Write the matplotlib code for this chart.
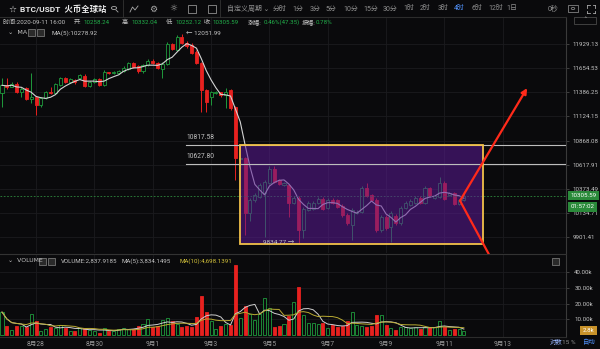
import numpy as np
import pandas as pd
import matplotlib
matplotlib.use("Agg")
import matplotlib.pyplot as plt
from matplotlib.patches import Rectangle, Circle
from matplotlib.lines import Line2D
from matplotlib.ticker import NullLocator

plt.rcParams['font.family'] = ['Roboto', 'Noto Sans CJK SC', 'DejaVu Sans']

# --- BTC/USDT 4h candles, 2020-08-26 20:00 .. 2020-09-11 16:00 ---
opens = [11376, 11470, 11450, 11478, 11385, 11430, 11310, 11330, 11246, 11322,
         11390, 11376, 11470, 11540, 11497, 11519, 11540, 11563, 11453, 11497,
         11530, 11464, 11607, 11596, 11600, 11618, 11651, 11718, 11680, 11618,
         11696, 11740, 11718, 11651, 11707, 11933, 11860, 12010, 11944, 11920,
         11840, 11718, 11409, 11333, 11376, 11387, 11354, 11409, 11225, 10680,
         10687, 10135, 10262, 10292, 10332, 10432, 10574, 10462, 10412, 10412,
         10233, 10282, 9969, 10164, 10174, 10233, 10272, 10184, 10262, 10262,
         10204, 10115, 10018, 10135, 10145, 10382, 10312, 10262, 9969, 10096,
         9999, 10106, 10038, 10184, 10213, 10233, 10282, 10233, 10382, 10282,
         10292, 10432, 10312, 10332, 10223, 10258.24]
highs = [11540, 11545, 11500, 11500, 11440, 11445, 11596, 11345, 11340, 11400,
         11442, 11485, 11560, 11555, 11545, 11530, 11590, 11585, 11510, 11545,
         11545, 11640, 11615, 11618, 11640, 11680, 11730, 11730, 11690, 11705,
         11760, 11755, 11730, 11720, 11950, 11945, 12030, 12051.99, 11960, 11940,
         11860, 11730, 11420, 11400, 11400, 11395, 11431, 11420, 11240, 10700,
         10700, 10280, 10330, 10430, 10460, 10600, 10600, 10475, 10445, 10425,
         10300, 10300, 10190, 10250, 10250, 10290, 10290, 10280, 10280, 10275,
         10220, 10130, 10180, 10160, 10400, 10432, 10320, 10280, 10110, 10110,
         10150, 10120, 10200, 10250, 10270, 10300, 10300, 10400, 10395, 10315,
         10493, 10450, 10345, 10345, 10275, 10332.04]
lows = [11225, 11420, 11440, 11376, 11340, 11300, 11268, 11139, 11230, 11310,
        11365, 11365, 11460, 11490, 11485, 11480, 11530, 11440, 11440, 11490,
        11455, 11455, 11585, 11590, 11590, 11610, 11640, 11660, 11600, 11600,
        11685, 11705, 11650, 11540, 11695, 11860, 11850, 11930, 11890, 11815,
        11700, 11171, 11171, 11250, 11365, 11340, 11214, 11190, 10462, 10600,
        9921, 10060, 10240, 10280, 9901, 10420, 10430, 10410, 10400, 10096,
        10220, 9834.77, 9890, 10150, 10160, 10220, 10160, 10170, 10220, 10180,
        10090, 10020, 9873, 10120, 10130, 10290, 10250, 9950, 9950, 9970,
        9854, 10020, 10020, 10170, 10200, 10220, 10220, 10220, 10290, 10270,
        10280, 10260, 10300, 10210, 10210, 10252.12]
closes = [11464, 11450, 11480, 11390, 11425, 11311, 11333, 11246, 11322, 11387,
          11376, 11475, 11540, 11497, 11530, 11497, 11574, 11453, 11497, 11530,
          11464, 11607, 11596, 11607, 11629, 11662, 11718, 11673, 11618, 11696,
          11740, 11718, 11662, 11707, 11933, 11876, 12010, 11944, 11910, 11830,
          11718, 11409, 11279, 11387, 11387, 11354, 11387, 11214, 10687, 10690,
          10135, 10262, 10312, 10412, 10442, 10574, 10442, 10422, 10432, 10233,
          10282, 9969, 10174, 10233, 10233, 10272, 10174, 10262, 10233, 10194,
          10115, 10038, 10164, 10145, 10382, 10302, 10262, 9969, 10096, 9989,
          10135, 10038, 10184, 10233, 10253, 10282, 10233, 10382, 10302, 10302,
          10432, 10272, 10332, 10223, 10262, 10305.59]
vol_k = [14.6, 5.8, 3.2, 5.8, 5.4, 5.0, 13.3, 8.6, 2.6, 3.9,
         5.0, 4.7, 6.5, 4.7, 2.6, 2.4, 4.3, 4.3, 3.2, 2.8,
         1.1, 4.3, 2.6, 2.8, 4.1, 4.3, 3.7, 3.9, 5.4, 7.1,
         10.3, 5.0, 5.8, 9.7, 10.8, 8.6, 7.1, 5.0, 5.4, 5.0,
         11.2, 24.7, 14.6, 8.6, 4.1, 5.4, 7.1, 6.5, 44.7, 10.8,
         18.7, 13.5, 9.7, 13.5, 23.7, 17.2, 5.0, 5.8, 7.1, 11.8,
         21.1, 30.5, 12.9, 7.9, 7.9, 7.1, 7.5, 4.3, 6.1, 5.0,
         5.8, 8.6, 14.6, 6.5, 5.4, 5.0, 5.8, 12.5, 12.5, 6.5,
         4.3, 3.2, 5.0, 5.0, 4.7, 5.0, 3.5, 5.0, 5.0, 5.0,
         8.6, 5.0, 3.0, 4.0, 3.9, 2.84]

price_ticks = [9901.41, 10134.71, 10373.49, 10617.91, 10868.08,
               11124.15, 11386.25, 11654.53, 11929.13]
vol_ticks = [10, 20, 30, 40]
date_pos = [7, 19, 31, 43, 55, 67, 79, 91, 103]      # candle index of 00:00
date_labels = ['8月28', '8月30', '9月1', '9月3', '9月5', '9月7', '9月9', '9月11', '9月13']

levels = [10817.58, 10627.80]
box_x = [49.0, 99.0]
box_y = [9834.77, 10817.58]
hi_idx, lo_idx = 37, 61
arrow_start = (94.2, 10254)
arrow_up_end = (108.0, 11433)
arrow_dn_end = (102.1, 9572)

BG = "#0a0a0c"
GRID = "#1b1b1e"
UP = "#1f9a3c"
DOWN = "#e8211f"
TXT = "#c4c4c4"
DIM = "#8f8f8f"
VAL = "#22b04a"

o = np.array(opens); c = np.array(closes); h = np.array(highs); l = np.array(lows)
idx = np.arange(len(o))
up = c >= o
edge = np.where(up, UP, DOWN)
face = np.where(up, BG, DOWN)

W, H = 600, 349
fig = plt.figure(figsize=(6, 3.49), dpi=100, facecolor=BG)
ax = fig.add_axes([0, 1 - 253 / H, 566 / W, (253 - 17) / H], facecolor=BG)
axv = fig.add_axes([0, 1 - 337 / H, 566 / W, (337 - 254) / H], facecolor=BG, sharex=ax)

# --- price panel ---
ax.vlines(idx, l, h, colors=edge, lw=0.7, zorder=2)
ax.bar(idx, np.maximum(np.abs(c - o), 4), bottom=np.minimum(o, c), width=0.62,
       color=face, edgecolor=edge, linewidth=0.6, zorder=3)
ma5 = pd.Series(c).rolling(5, min_periods=1).mean()
ax.plot(idx, ma5, color="#d4d4d4", lw=0.8, zorder=4)
ax.axhline(c[-1], color="#2e8b3e", lw=0.6, ls=(0, (2, 2)), zorder=4)

ax.add_patch(Rectangle((box_x[0], box_y[0]), box_x[1] - box_x[0], box_y[1] - box_y[0],
                       facecolor="#5b1a95", alpha=0.55, edgecolor="none", zorder=5))
ax.add_patch(Rectangle((box_x[0], box_y[0]), box_x[1] - box_x[0], box_y[1] - box_y[0],
                       fill=False, edgecolor="#f2c14a", lw=1.3, zorder=7))
for v in levels:
    ax.plot([37.9, 116], [v, v], color="#bdbdbd", lw=0.8, zorder=6)
    ax.annotate(f"{v:.2f}", (38, v), xytext=(0, 3), textcoords="offset points",
                fontsize=4.8, color=TXT, va="bottom", zorder=8)
ax.annotate(f"\u2190 {highs[hi_idx]:.2f}", (hi_idx, highs[hi_idx]), xytext=(3, 0),
            textcoords="offset points", fontsize=4.6, color=TXT, va="center")
ax.annotate(f"{lows[lo_idx]:.2f} \u2192", (lo_idx, lows[lo_idx]), xytext=(-3, 1),
            textcoords="offset points", fontsize=4.6, color=TXT, va="center", ha="right",
            zorder=8)

arrow_kw = dict(arrowstyle="-|>", mutation_scale=8, lw=1.6, color="#ff2a1a",
                shrinkA=0, shrinkB=0)
ax.annotate("", xy=arrow_up_end, xytext=arrow_start, arrowprops=arrow_kw,
            annotation_clip=False, zorder=9)
a2 = ax.annotate("", xy=arrow_dn_end, xytext=arrow_start, arrowprops=arrow_kw,
                 annotation_clip=False, zorder=9)
a2.arrow_patch.set_clip_on(False)

ax.set_yscale("log")
ax.set_ylim(9749, 12246)
ax.set_xlim(-0.41, 116.0)
ax.yaxis.tick_right()
ax.set_yticks(price_ticks)
ax.set_yticklabels([f"{v:.2f}" for v in price_ticks])
ax.yaxis.set_minor_locator(NullLocator())
ax.tick_params(axis="y", colors="#555", labelcolor=TXT, labelsize=4.4, length=2, width=0.5, pad=2.5)
ax.set_xticks(date_pos)
ax.tick_params(axis="x", labelbottom=False, length=0)
ax.grid(True, color=GRID, lw=0.6)
ax.set_axisbelow(True)
for s in ["left", "bottom"]:
    ax.spines[s].set_visible(False)
ax.spines["right"].set_color("#3a3a3a")
ax.spines["top"].set_color("#2c2c2c")

# price labels on the right
box_kw = dict(boxstyle="square,pad=0.4", fc="#2a8a3a", ec="none")
ax.annotate(f"{c[-1]:.2f}", xy=(1, c[-1]), xycoords=("axes fraction", "data"), xytext=(3, 0),
            textcoords="offset points", va="center", fontsize=4.4, color="white",
            bbox=box_kw, annotation_clip=False)
ax.annotate("01:57:02", xy=(1, c[-1]), xycoords=("axes fraction", "data"), xytext=(3, -8),
            textcoords="offset points", va="center", fontsize=4.4, color="white",
            bbox=box_kw, annotation_clip=False)

# --- volume panel ---
axv.bar(idx, vol_k, width=0.62, color=face, edgecolor=edge, linewidth=0.6, zorder=3)
vs = pd.Series(vol_k)
axv.plot(idx, vs.rolling(5, min_periods=1).mean(), color="#cfcfcf", lw=0.7, zorder=4)
axv.plot(idx, vs.rolling(10, min_periods=1).mean(), color="#b9aa32", lw=0.7, zorder=4)
axv.set_ylim(-1.3, 51.6)
axv.yaxis.tick_right()
axv.set_yticks(vol_ticks)
axv.set_yticklabels([f"{v:.2f}k" for v in vol_ticks])
axv.tick_params(axis="y", colors="#555", labelcolor=TXT, labelsize=4.4, length=2, width=0.5, pad=4)
axv.set_xticks(date_pos)
axv.set_xticklabels(date_labels)
axv.tick_params(axis="x", length=0, labelsize=4.8, labelcolor="#9a9a9a", pad=3)
axv.grid(True, color=GRID, lw=0.6)
axv.set_axisbelow(True)
axv.spines["left"].set_visible(False)
axv.spines["right"].set_color("#3a3a3a")
axv.spines["top"].set_color("#333")
axv.spines["bottom"].set_color("#2c2c2c")
axv.annotate(f"{vol_k[-1]:.1f}k", xy=(1, vol_k[-1]), xycoords=("axes fraction", "data"),
             xytext=(12, 0), textcoords="offset points", va="center", fontsize=4.4, color="white",
             bbox=dict(boxstyle="square,pad=0.4", fc="#c8922a", ec="none"), annotation_clip=False)


def ftxt(px, py, s, **kw):
    kw.setdefault("va", "center")
    fig.text(px / W, 1 - py / H, s, **kw)


def fline(x0, y0, x1, y1, color="#333", lw=0.6):
    fig.add_artist(Line2D([x0 / W, x1 / W], [1 - y0 / H, 1 - y1 / H], color=color, lw=lw,
                          transform=fig.transFigure))


def fbox(x, y, w, hh, ec="#777", fc="none", lw=0.5):
    fig.add_artist(Rectangle((x / W, 1 - (y + hh) / H), w / W, hh / H, transform=fig.transFigure,
                             fill=fc != "none", facecolor=fc, edgecolor=ec, lw=lw))


# --- toolbar ---
ftxt(12, 9, "\u2606", fontsize=6.5, color="#dcdcdc", ha="center", family=["DejaVu Sans"])
ftxt(20, 9, "BTC/USDT  火币全球站", fontsize=6, color="#ececec", fontweight="bold")
fig.add_artist(Circle((114 / W, 1 - 8 / H), 2.6 / W, transform=fig.transFigure, fill=False,
                      edgecolor="#aaa", lw=0.6))
fline(116, 10, 118, 12, "#aaa", 0.6)
fline(123, 0, 123, 17, "#333")
fline(220, 0, 220, 17, "#333")
fig.add_artist(Line2D([130 / W, 132.5 / W, 135 / W, 138 / W], [1 - 12 / H, 1 - 7 / H, 1 - 10 / H, 1 - 6 / H],
                      color="#aaa", lw=0.6, transform=fig.transFigure))
ftxt(153, 9, "\u2699", fontsize=6.5, color="#aaa", ha="center", family=["DejaVu Sans"])
ftxt(173, 9, "\u263C", fontsize=6.5, color="#aaa", ha="center", family=["DejaVu Sans"])
fbox(188, 5, 8, 8, "#aaa")
fbox(208, 5, 8, 8, "#aaa")
ftxt(227, 9, "自定义周期 \u2304", fontsize=5, color=DIM, family=["Noto Sans CJK SC", "DejaVu Sans"])
periods = ["分时", "1分", "3分", "5分", "10分", "15分", "30分", "1时", "2时", "3时", "4时", "6时", "12时", "1日"]
period_x = [273, 292, 310, 326, 343, 363, 383, 403, 420, 438, 454, 471, 488, 506]
for px, s in zip(period_x, periods):
    ftxt(px, 9, s, fontsize=5, color="#4f8ff7" if s == "4时" else DIM)
ftxt(548, 9, "0秒", fontsize=5, color=DIM)
fbox(568, 5, 10, 7, "#999")
fig.add_artist(Circle((573 / W, 1 - 8.5 / H), 1.8 / W, transform=fig.transFigure, fill=False,
                      edgecolor="#999", lw=0.5))
for (x0, y0, dx, dy) in [(587, 5, 1, 1), (595, 5, -1, 1), (587, 13, 1, -1), (595, 13, -1, -1)]:
    fline(x0, y0, x0 + 2.5 * dx, y0, "#aaa")
    fline(x0, y0, x0, y0 + 2.5 * dy, "#aaa")

# --- info line ---
info = [(3, "时间:2020-09-11 16:00", TXT), (74, "开:", TXT), (83, "10258.24", VAL),
        (122, "高:", TXT), (131, "10332.04", VAL), (166, "低:", TXT), (175, "10252.12", VAL),
        (204, "收:", TXT), (212, "10305.59", VAL), (248, "涨幅:", TXT), (264, "0.46%(47.35)", VAL),
        (302, "振幅:", TXT), (316, "0.78%", VAL)]
for px, s, col in info:
    ftxt(px, 22, s, fontsize=4.4, color=col)

ftxt(8, 33, "\u2304  MA", fontsize=4.6, color=TXT, family=["DejaVu Sans"])
fbox(28, 29, 7, 7, "#888", "#2a2a2a")
fbox(37, 29, 7, 7, "#888", "#2a2a2a")
ftxt(51, 33, f"MA(5):{ma5.iloc[-1]:.2f}", fontsize=4.6, color=TXT)
fbox(574, 17, 22, 7, "#555")
ftxt(585, 20, "\u02c4", fontsize=5, color="#aaa", ha="center", family=["DejaVu Sans"])

ftxt(8, 261, "\u2304  VOLUME", fontsize=4.4, color=TXT, family=["DejaVu Sans"])
fbox(39, 258, 7, 7, "#888", "#2a2a2a")
fbox(48, 258, 7, 7, "#888", "#2a2a2a")
ftxt(61, 261, "VOLUME:2,837.9185", fontsize=4.4, color=TXT)
ftxt(122, 261, "MA(5):3,834.1495", fontsize=4.4, color=TXT)
ftxt(179, 261, "MA(10):4,698.1391", fontsize=4.4, color="#d4c23a")
fbox(552, 258, 7, 7, "#888", "#2a2a2a")

ftxt(550, 342, "对数", fontsize=4.6, color="#9bb8ff")
ftxt(562, 342, "15 %", fontsize=4.6, color=DIM)
ftxt(583, 342, "自动", fontsize=4.6, color="#4f8ff7")

fig.savefig("out.png", dpi=100, facecolor=BG)
